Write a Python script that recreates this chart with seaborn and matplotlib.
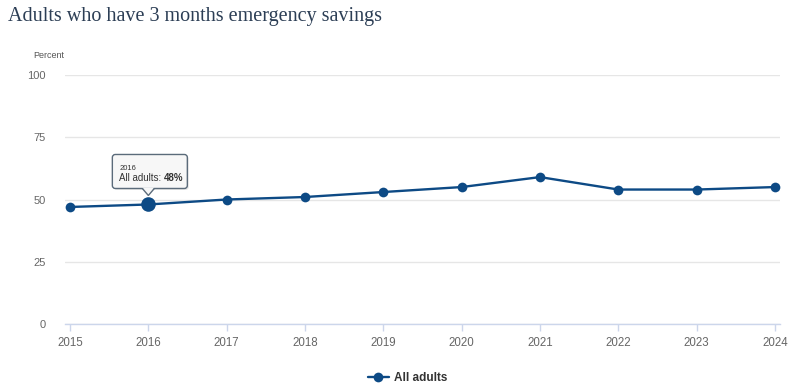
import matplotlib
matplotlib.use("Agg")
import matplotlib.pyplot as plt
import matplotlib.transforms as mtrans
from matplotlib.patches import FancyBboxPatch, Polygon
import seaborn as sns
import pandas as pd

years = [2015, 2016, 2017, 2018, 2019, 2020, 2021, 2022, 2023, 2024]
all_adults = [47, 48, 50, 51, 53, 55, 59, 54, 54, 55]
y_ticks = [0, 25, 50, 75, 100]
series_name = "All adults"
title = "Adults who have 3 months emergency savings"
hover_year = 2016

df = pd.DataFrame({"year": years, "value": all_adults})

sns.set_theme(style="white")
plt.rcParams["font.family"] = ["Liberation Sans", "DejaVu Sans"]

LINE = "#0d4a85"
fig = plt.figure(figsize=(8, 3.84), dpi=100)
ax = fig.add_axes([65/800, 1-324/384, 715/800, (324-75)/384])

sns.lineplot(data=df, x="year", y="value", ax=ax, color=LINE, lw=1.7,
             marker="o", markersize=7, markeredgewidth=0, label=series_name)
hv = all_adults[years.index(hover_year)]
ax.plot([hover_year], [hv], "o", color=LINE, markersize=10.5, markeredgewidth=0, zorder=5)

ax.set_xlim(years[0]-0.064, years[-1]+0.064)
ax.set_ylim(0, 100)
ax.set_yticks(y_ticks)
ax.set_xticks(years)
ax.set_xticklabels([str(y) for y in years])
ax.set_xlabel("")
ax.set_ylabel("")
for s in ["top", "right", "left"]:
    ax.spines[s].set_visible(False)
ax.spines["bottom"].set_color("#ccd6eb")
ax.spines["bottom"].set_linewidth(1)
ax.grid(axis="y", color="#e6e6e6", lw=1)
ax.grid(axis="x", visible=False)
ax.set_axisbelow(True)
ax.tick_params(axis="y", length=0, labelsize=8, labelcolor="#666666", pad=14)
ax.tick_params(axis="x", length=5, width=1, color="#ccd6eb", labelsize=8.3,
               labelcolor="#666666", pad=4, bottom=True, direction="out")

# title and unit label
fig.text(8/800, 1-16/384, title, fontsize=14.5, color="#2c3e55",
         family=["Liberation Serif", "DejaVu Serif"], va="center", ha="left")
fig.text(33/800, 1-55/384, "Percent", fontsize=6.5, color="#555555", va="center", ha="left")

# legend
leg = ax.legend(loc="upper center", bbox_to_anchor=(0.479, -0.15), frameon=False,
                fontsize=8.5, handlelength=1.8, handletextpad=0.4)
for t in leg.get_texts():
    t.set_fontweight("bold")
    t.set_color("#333333")

# tooltip anchored to the hovered point (offsets in pixels)
base = ax.transData.transform((hover_year, hv))
pix = mtrans.IdentityTransform()
bx0, bx1 = base[0]-36, base[0]+39
by0, by1 = base[1]+16, base[1]+50
shadow = FancyBboxPatch((bx0+1.5, by0-1.5), bx1-bx0, by1-by0,
                        boxstyle="round,pad=0,rounding_size=3", transform=pix,
                        fc="#00000018", ec="none", zorder=9)
box = FancyBboxPatch((bx0, by0), bx1-bx0, by1-by0,
                     boxstyle="round,pad=0,rounding_size=3", transform=pix,
                     fc="#f7f7f7", ec="#5b6b7a", lw=1, zorder=10)
fig.add_artist(shadow)
fig.add_artist(box)
notch_fill = Polygon([(base[0]-6, by0+1), (base[0], by0-7), (base[0]+6, by0+1)],
                     closed=True, transform=pix, fc="#f7f7f7", ec="none", zorder=11)
notch = Polygon([(base[0]-6, by0), (base[0], by0-7), (base[0]+6, by0)],
                closed=False, transform=pix, fc="none", ec="#5b6b7a", lw=1, zorder=12)
fig.add_artist(notch_fill)
fig.add_artist(notch)
fig.text((bx0+7)/800, (base[1]+36)/384, str(hover_year), fontsize=5.5, color="#333333",
         va="center", ha="left", zorder=13)
t1 = fig.text((bx0+7)/800, (base[1]+23)/384, f"{series_name}: ", fontsize=7, color="#333333",
              va="baseline", ha="left", zorder=13)
fig.canvas.draw()
bb = t1.get_window_extent()
fig.text(bb.x1/800, (base[1]+23)/384, f"{hv}%", fontsize=7, color="#333333",
         fontweight="bold", va="baseline", ha="left", zorder=13)

fig.savefig("out.png", dpi=100)
